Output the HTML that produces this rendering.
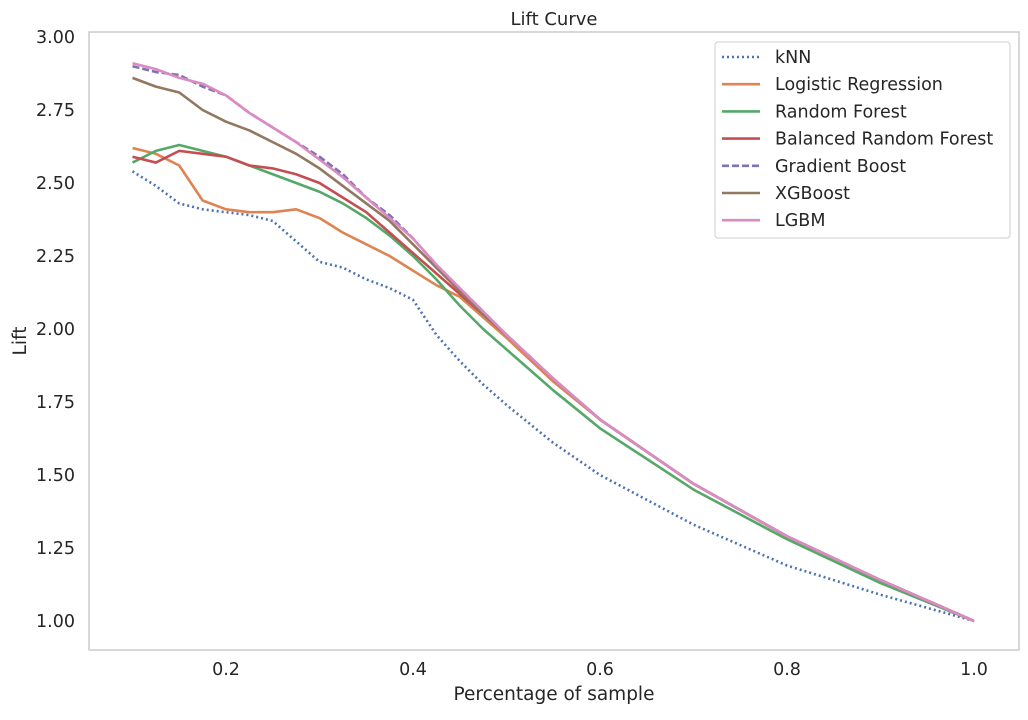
<!DOCTYPE html>
<html><head><meta charset="utf-8">
<style>
body{margin:0;background:#fff;font-family:"Liberation Sans","DejaVu Sans",sans-serif;}
svg text{font-family:"DejaVu Sans","Liberation Sans",sans-serif;fill:#262626;}
</style></head>
<body>
<svg id="chart" width="1028" height="715" viewBox="0 0 1028 715">
<rect x="0" y="0" width="1028" height="715" fill="#fff"/>
<rect x="89" y="32" width="930" height="618" fill="#fff" stroke="#cccccc" stroke-width="1.5"/>
<text x="554" y="25" font-size="18" text-anchor="middle">Lift Curve</text>
<text x="554" y="700" font-size="18.5" text-anchor="middle">Percentage of sample</text>
<text transform="translate(26,341) rotate(-90)" font-size="18.5" text-anchor="middle">Lift</text>
<g id="ticks"></g>
<g id="series"></g>
<g id="legend"></g>
</svg>
<script>
const xs=[0.1,0.125,0.15,0.175,0.2,0.225,0.25,0.275,0.3,0.325,0.35,0.375,0.4,0.425,0.45,0.475,0.5,0.55,0.6,0.7,0.8,0.9,1.0];
const knn=[2.54,2.49,2.43,2.41,2.40,2.39,2.37,2.30,2.23,2.21,2.17,2.14,2.10,1.98,1.89,1.81,1.74,1.61,1.50,1.33,1.19,1.09,1.0];
const logreg=[2.62,2.60,2.56,2.44,2.41,2.40,2.40,2.41,2.38,2.33,2.29,2.25,2.20,2.15,2.11,2.04,1.97,1.82,1.69,1.47,1.29,1.14,1.0];
const rf=[2.57,2.61,2.63,2.61,2.59,2.56,2.53,2.50,2.47,2.43,2.38,2.32,2.25,2.17,2.08,2.00,1.93,1.79,1.66,1.45,1.28,1.13,1.0];
const brf=[2.59,2.57,2.61,2.60,2.59,2.56,2.55,2.53,2.50,2.45,2.40,2.33,2.26,2.19,2.12,2.05,1.98,1.83,1.69,1.47,1.29,1.14,1.0];
const gb=[2.90,2.88,2.87,2.83,2.80,2.74,2.69,2.64,2.59,2.53,2.45,2.39,2.31,2.22,2.14,2.06,1.98,1.83,1.69,1.47,1.29,1.14,1.0];
const xgb=[2.86,2.83,2.81,2.75,2.71,2.68,2.64,2.60,2.55,2.49,2.43,2.37,2.29,2.21,2.13,2.05,1.98,1.83,1.69,1.47,1.29,1.14,1.0];
const lgbm=[2.91,2.89,2.86,2.84,2.80,2.74,2.69,2.64,2.58,2.52,2.45,2.38,2.31,2.22,2.14,2.06,1.98,1.83,1.69,1.47,1.29,1.14,1.0];
const seriesNames=["kNN","Logistic Regression","Random Forest","Balanced Random Forest","Gradient Boost","XGBoost","LGBM"];
const xTicks=[0.2,0.4,0.6,0.8,1.0];
const yTicks=[1.00,1.25,1.50,1.75,2.00,2.25,2.50,2.75,3.00];
const seriesData=[knn,logreg,rf,brf,gb,xgb,lgbm];
const colors=["#4c72b0","#dd8452","#55a868","#c44e52","#8172b3","#937860","#da8bc3"];
const dashes=["2,3","","","","7,3","",""];
const NS="http://www.w3.org/2000/svg";
function X(v){return 39+v*935;}
function Y(v){return 621-(v-1)*292;}
const tg=document.getElementById('ticks');
xTicks.forEach(t=>{const e=document.createElementNS(NS,'text');


e.setAttribute('x',X(t));e.setAttribute('y',675);e.setAttribute('font-size','17.5');e.setAttribute('text-anchor','middle');e.textContent=t.toFixed(1);tg.appendChild(e);});
yTicks.forEach(t=>{const e=document.createElementNS(NS,'text');


e.setAttribute('x',75);e.setAttribute('y',Y(t)+6);e.setAttribute('font-size','17.5');e.setAttribute('text-anchor','end');e.textContent=t.toFixed(2);tg.appendChild(e);});
const sg=document.getElementById('series');
seriesData.forEach((d,i)=>{const p=document.createElementNS(NS,'polyline');


p.setAttribute('points',xs.map((x,j)=>X(x)+','+Y(d[j])).join(' '));
p.setAttribute('fill','none');p.setAttribute('stroke',colors[i]);p.setAttribute('stroke-width','2.6');p.setAttribute('stroke-linejoin','round');
if(dashes[i])p.setAttribute('stroke-dasharray',dashes[i]);sg.appendChild(p);});
const lg=document.getElementById('legend');
const box=document.createElementNS(NS,'rect');


box.setAttribute('x',715);box.setAttribute('y',42);box.setAttribute('width',295);box.setAttribute('height',196);box.setAttribute('rx',3);
box.setAttribute('fill','#fff');box.setAttribute('fill-opacity','0.85');box.setAttribute('stroke','#cccccc');lg.appendChild(box);
seriesNames.forEach((n,i)=>{const y=57+i*27.2;
const l=document.createElementNS(NS,'line');


l.setAttribute('x1',722);l.setAttribute('x2',760);l.setAttribute('y1',y);l.setAttribute('y2',y);
l.setAttribute('stroke',colors[i]);l.setAttribute('stroke-width','2.6');if(dashes[i])l.setAttribute('stroke-dasharray',dashes[i]);lg.appendChild(l);
const t=document.createElementNS(NS,'text');


t.setAttribute('x',775);t.setAttribute('y',y+6);t.setAttribute('font-size','17.5');t.textContent=n;lg.appendChild(t);});
</script>
</body></html>
